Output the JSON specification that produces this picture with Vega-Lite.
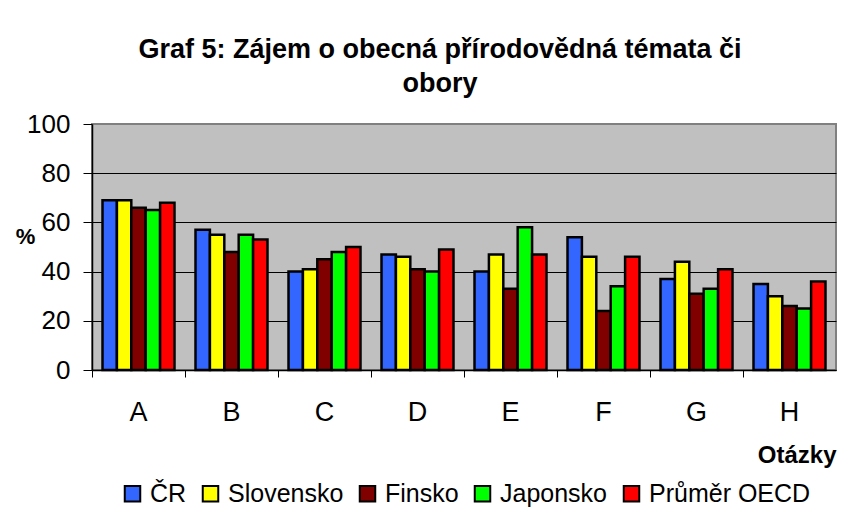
{
  "$schema": "https://vega.github.io/schema/vega-lite/v6.json",
  "width": 744,
  "height": 246,
  "autosize": "none",
  "padding": {"left": 92, "top": 124, "right": 13, "bottom": 160},
  "background": "white",
  "title": {
    "text": ["Graf 5: Zájem o obecná přírodovědná témata či", "obory"],
    "font": "Liberation Sans",
    "fontSize": 27,
    "fontWeight": "bold",
    "color": "black",
    "anchor": "middle",
    "frame": "group",
    "dx": -24,
    "offset": 13,
    "lineHeight": 34
  },
  "data": {
    "values": [
      {"q": "A", "s": "ČR", "v": 69}, {"q": "A", "s": "Slovensko", "v": 69}, {"q": "A", "s": "Finsko", "v": 66}, {"q": "A", "s": "Japonsko", "v": 65}, {"q": "A", "s": "Průměr OECD", "v": 68},
      {"q": "B", "s": "ČR", "v": 57}, {"q": "B", "s": "Slovensko", "v": 55}, {"q": "B", "s": "Finsko", "v": 48}, {"q": "B", "s": "Japonsko", "v": 55}, {"q": "B", "s": "Průměr OECD", "v": 53},
      {"q": "C", "s": "ČR", "v": 40}, {"q": "C", "s": "Slovensko", "v": 41}, {"q": "C", "s": "Finsko", "v": 45}, {"q": "C", "s": "Japonsko", "v": 48}, {"q": "C", "s": "Průměr OECD", "v": 50},
      {"q": "D", "s": "ČR", "v": 47}, {"q": "D", "s": "Slovensko", "v": 46}, {"q": "D", "s": "Finsko", "v": 41}, {"q": "D", "s": "Japonsko", "v": 40}, {"q": "D", "s": "Průměr OECD", "v": 49},
      {"q": "E", "s": "ČR", "v": 40}, {"q": "E", "s": "Slovensko", "v": 47}, {"q": "E", "s": "Finsko", "v": 33}, {"q": "E", "s": "Japonsko", "v": 58}, {"q": "E", "s": "Průměr OECD", "v": 47},
      {"q": "F", "s": "ČR", "v": 54}, {"q": "F", "s": "Slovensko", "v": 46}, {"q": "F", "s": "Finsko", "v": 24}, {"q": "F", "s": "Japonsko", "v": 34}, {"q": "F", "s": "Průměr OECD", "v": 46},
      {"q": "G", "s": "ČR", "v": 37}, {"q": "G", "s": "Slovensko", "v": 44}, {"q": "G", "s": "Finsko", "v": 31}, {"q": "G", "s": "Japonsko", "v": 33}, {"q": "G", "s": "Průměr OECD", "v": 41},
      {"q": "H", "s": "ČR", "v": 35}, {"q": "H", "s": "Slovensko", "v": 30}, {"q": "H", "s": "Finsko", "v": 26}, {"q": "H", "s": "Japonsko", "v": 25}, {"q": "H", "s": "Průměr OECD", "v": 36}
    ]
  },
  "mark": {"type": "bar", "stroke": "black", "strokeWidth": 2.5},
  "encoding": {
    "x": {
      "field": "q",
      "type": "nominal",
      "scale": {"padding": 0},
      "axis": {
        "title": "Otázky",
        "titleFont": "Liberation Sans",
        "titleFontSize": 24,
        "titleFontWeight": "bold",
        "titleColor": "black",
        "titleAnchor": "end",
        "titleAlign": "right",
        "titleBaseline": "alphabetic",
        "titleX": 744,
        "titleY": 92,
        "labelAngle": 0,
        "labelFont": "Liberation Sans",
        "labelFontSize": 27,
        "labelColor": "black",
        "labelPadding": 22,
        "bandPosition": 0,
        "tickSize": 7,
        "tickColor": "black",
        "domainColor": "black",
        "domainWidth": 1.5
      }
    },
    "xOffset": {
      "field": "s",
      "type": "nominal",
      "sort": ["ČR", "Slovensko", "Finsko", "Japonsko", "Průměr OECD"],
      "scale": {"paddingInner": 0, "paddingOuter": 0.73}
    },
    "y": {
      "field": "v",
      "type": "quantitative",
      "scale": {"domain": [0, 100], "nice": false},
      "axis": {
        "values": [0, 20, 40, 60, 80, 100],
        "title": "%",
        "titleAngle": 0,
        "titleFont": "Liberation Sans",
        "titleFontSize": 22,
        "titleFontWeight": "bold",
        "titleColor": "black",
        "titleAlign": "center",
        "titleBaseline": "middle",
        "titleX": -67,
        "titleY": 112,
        "labelFont": "Liberation Sans",
        "labelFontSize": 26,
        "labelColor": "black",
        "labelPadding": 13,
        "tickSize": 9,
        "tickColor": "black",
        "domainColor": "black",
        "domainWidth": 1.5,
        "grid": true,
        "gridColor": {"condition": {"test": "datum.value == 100", "value": "#808080"}, "value": "black"},
        "gridWidth": 1,
        "gridOpacity": 1
      }
    },
    "color": {
      "field": "s",
      "type": "nominal",
      "sort": ["ČR", "Slovensko", "Finsko", "Japonsko", "Průměr OECD"],
      "scale": {
        "domain": ["ČR", "Slovensko", "Finsko", "Japonsko", "Průměr OECD"],
        "range": ["#3366FF", "#FFFF00", "#800000", "#00FF00", "#FF0000"]
      },
      "legend": {
        "title": null,
        "orient": "none",
        "legendX": 28,
        "legendY": 357,
        "direction": "horizontal",
        "columns": 5,
        "symbolType": "square",
        "symbolSize": 240,
        "symbolStrokeColor": "black",
        "symbolStrokeWidth": 2,
        "symbolOpacity": 1,
        "labelFont": "Liberation Sans",
        "labelFontSize": 25,
        "labelColor": "black",
        "labelOffset": 5,
        "columnPadding": 11,
        "labelLimit": 300
      }
    }
  },
  "config": {
    "view": {"fill": "#C0C0C0", "stroke": "#808080", "strokeWidth": 2}
  }
}
